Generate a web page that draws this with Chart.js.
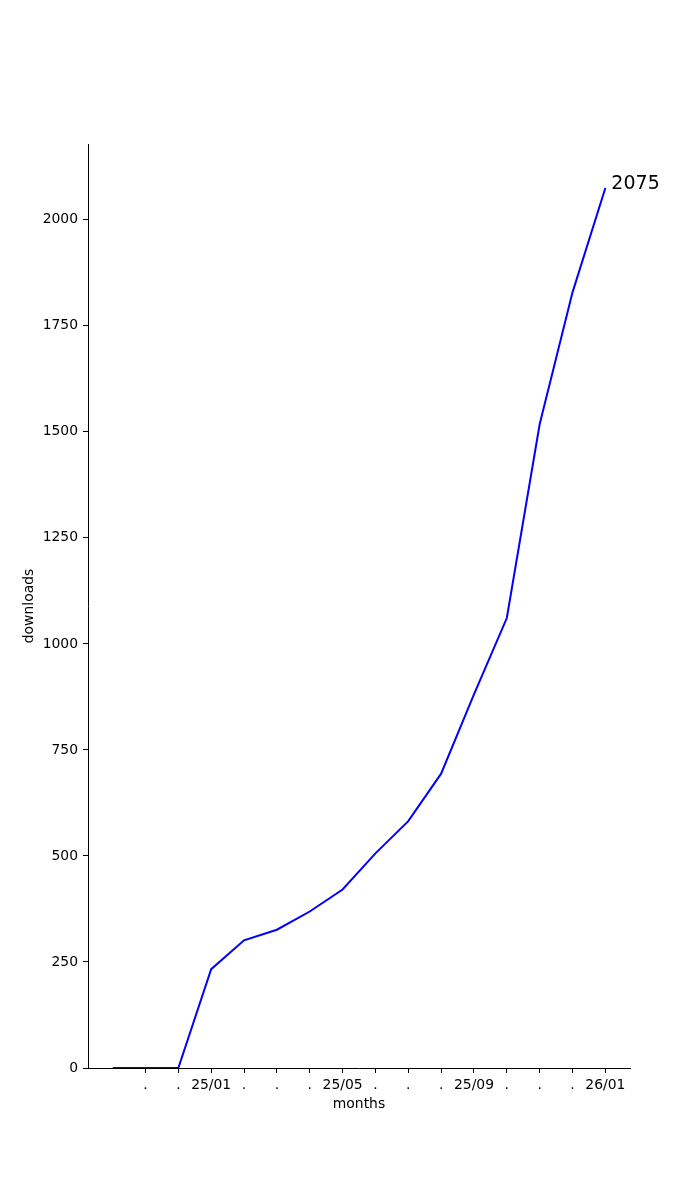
<!DOCTYPE html>
<html>
<head>
<meta charset="utf-8">
<script src="https://cdn.jsdelivr.net/npm/chart.js@4/dist/chart.umd.min.js"></script>
<style>
  html, body { margin: 0; padding: 0; background: #fff; }
  canvas { display: block; }
</style>
</head>
<body>
<canvas id="chart" width="700" height="1200"></canvas>
<script>
// monthly cumulative downloads
const months = ['24/10', '24/11', '24/12', '25/01', '25/02', '25/03', '25/04', '25/05',
                '25/06', '25/07', '25/08', '25/09', '25/10', '25/11', '25/12', '26/01'];
const downloads = [0, 0, 0, 233, 301, 326, 369, 421, 506, 582, 694, 881, 1061, 1518, 1829, 2075];
// x tick labels (first month has no tick)
const tickLabels = ['', '.', '.', '25/01', '.', '.', '.', '25/05', '.', '.', '.', '25/09', '.', '.', '.', '26/01'];
const yTicks = [0, 250, 500, 750, 1000, 1250, 1500, 1750, 2000];

const FONT = 'DejaVu Sans';

// write the last value next to the end of the line
const lastLabel = {
  id: 'lastLabel',
  afterDatasetsDraw(chart) {
    const meta = chart.getDatasetMeta(0);
    const pt = meta.data[meta.data.length - 1];
    const ctx = chart.ctx;
    ctx.save();
    ctx.font = `19px "${FONT}"`;
    ctx.fillStyle = '#000';
    ctx.textAlign = 'left';
    ctx.textBaseline = 'alphabetic';
    ctx.fillText(String(downloads[downloads.length - 1]), pt.x + 6, pt.y + 1);
    ctx.restore();
  },
};

const maxY = Math.max(...downloads) * 1.05;

new Chart(document.getElementById('chart'), {
  type: 'line',
  data: {
    datasets: [{
      label: 'downloads',
      data: months.map((m, i) => ({ x: i, y: downloads[i] })),
      borderColor: '#0000ff',
      borderWidth: 2,
      pointRadius: 0,
      tension: 0,
      fill: false,
    }],
  },
  options: {
    responsive: false,
    animation: false,
    layout: { padding: { top: 144, right: 70, left: 0, bottom: 0 } },
    plugins: {
      legend: { display: false },
      tooltip: { enabled: false },
    },
    scales: {
      x: {
        type: 'linear',
        min: -0.75,
        max: months.length - 1 + 0.75,
        afterFit(scale) { scale.height = 132; },
        afterBuildTicks(scale) {
          scale.ticks = tickLabels.map((t, i) => ({ value: i })).slice(1);
        },
        grid: { drawOnChartArea: false, drawTicks: true, tickLength: 5, tickColor: '#000', tickWidth: 1 },
        border: { display: true, color: '#000', width: 1 },
        ticks: {
          autoSkip: false,
          maxRotation: 0,
          padding: 4,
          color: '#000',
          font: { family: FONT, size: 13.9 },
          callback: (v) => tickLabels[v],
        },
        title: {
          display: true,
          text: 'months',
          color: '#000',
          font: { family: FONT, size: 13.9 },
          padding: { top: 0, bottom: 87 },
        },
      },
      y: {
        min: 0,
        max: maxY,
        afterFit(scale) { scale.width = 88; },
        afterBuildTicks(scale) {
          scale.ticks = yTicks.map(v => ({ value: v }));
        },
        grid: { drawOnChartArea: false, drawTicks: true, tickLength: 5, tickColor: '#000', tickWidth: 1 },
        border: { display: true, color: '#000', width: 1 },
        ticks: {
          padding: 5,
          color: '#000',
          font: { family: FONT, size: 13.9 },
          callback: (v) => String(v),
        },
        title: {
          display: true,
          text: 'downloads',
          color: '#000',
          font: { family: FONT, size: 13.9 },
          padding: { top: 21, bottom: 0 },
        },
      },
    },
  },
  plugins: [lastLabel],
});
</script>
</body>
</html>
